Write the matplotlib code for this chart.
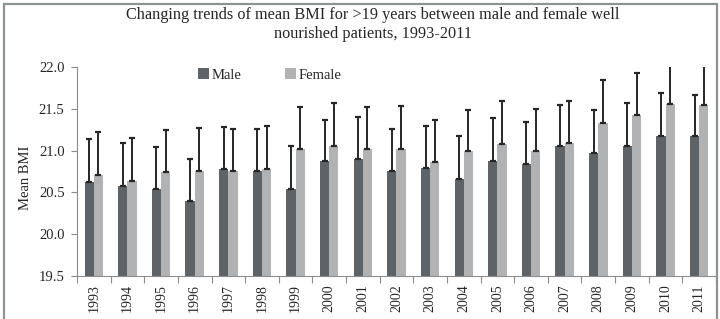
import matplotlib

matplotlib.use("Agg")

import numpy as np
import matplotlib.pyplot as plt
from matplotlib.patches import Patch, Rectangle

years = [str(y) for y in range(1993, 2012)]
male_mean = [20.63, 20.58, 20.54, 20.40, 20.78, 20.75, 20.54, 20.87, 20.90, 20.76,
             20.79, 20.66, 20.88, 20.84, 21.05, 20.97, 21.06, 21.18, 21.17]
male_sd = [0.51, 0.51, 0.50, 0.50, 0.50, 0.51, 0.51, 0.50, 0.50, 0.50,
           0.50, 0.51, 0.51, 0.50, 0.50, 0.51, 0.51, 0.51, 0.50]
female_mean = [20.71, 20.64, 20.74, 20.76, 20.76, 20.78, 21.02, 21.06, 21.02, 21.02,
               20.86, 20.99, 21.08, 21.00, 21.09, 21.33, 21.43, 21.56, 21.54]
female_sd = [0.51, 0.51, 0.51, 0.51, 0.50, 0.51, 0.50, 0.51, 0.50, 0.51,
             0.51, 0.50, 0.51, 0.50, 0.50, 0.51, 0.50, 0.50, 0.50]

male_col = "#5e6367"
female_col = "#b1b2b3"
err_col = "#262626"
spine_col = "#8c8c8c"
txt_col = "#262626"

plt.rcParams["font.family"] = ["Liberation Serif", "DejaVu Serif"]

fig = plt.figure(figsize=(7.2, 3.19), dpi=100)
ax = fig.add_axes([77 / 720, 1 - 276 / 319, (716 - 77) / 720, (276 - 67) / 319])

x = np.arange(len(years))
w = 0.275
ax.bar(x - w / 2, male_mean, w, bottom=0, color=male_col, label="Male", zorder=2)
ax.bar(x + w / 2, female_mean, w, bottom=0, color=female_col, label="Female", zorder=2)

zeros = np.zeros(len(years))
ax.errorbar(x - w / 2, male_mean, yerr=[zeros, male_sd], fmt="none", ecolor=err_col,
            elinewidth=1.4, capsize=2.4, capthick=1.6, zorder=3)
ax.errorbar(x + w / 2, female_mean, yerr=[zeros, female_sd], fmt="none", ecolor=err_col,
            elinewidth=1.4, capsize=2.4, capthick=1.6, zorder=3)

ax.set_xlim(-0.5, len(years) - 0.5)
ax.set_ylim(19.5, 22.0)
ax.set_yticks(np.arange(19.5, 22.01, 0.5))
ax.set_yticklabels([f"{v:.1f}" for v in np.arange(19.5, 22.01, 0.5)], fontsize=10.5, color=txt_col)
ax.set_xticks(x)
ax.set_xticklabels(years, rotation=90, fontsize=10, color=txt_col)
ax.set_xticks(np.arange(-0.5, len(years), 1.0), minor=True)
ax.tick_params(axis="x", which="major", length=0, pad=6)
ax.tick_params(axis="x", which="minor", length=5, color=spine_col, width=0.8)
ax.tick_params(axis="y", length=4, color=spine_col, width=0.8, pad=5)

for side in ("top", "right"):
    ax.spines[side].set_visible(False)
for side in ("left", "bottom"):
    ax.spines[side].set_color(spine_col)
    ax.spines[side].set_linewidth(0.8)

ax.set_ylabel("Mean BMI", fontsize=10.5, color=txt_col)
ax.yaxis.set_label_coords(-0.07, 0.47)

handles = [Patch(facecolor=male_col, label="Male"), Patch(facecolor=female_col, label="Female")]
fig.legend(handles=handles, loc="center left", bbox_to_anchor=(191 / 720, 1 - 75 / 319),
           ncol=2, frameon=False, fontsize=10.5, handlelength=0.75, handleheight=0.75,
           handletextpad=0.15, columnspacing=3.0, borderpad=0, labelcolor=txt_col)

fig.text(373 / 720, 1 - 15 / 319,
         "Changing trends of mean BMI for >19 years between male and female well",
         ha="center", va="center", fontsize=11.7, color=txt_col)
fig.text(373 / 720, 1 - 34 / 319, "nourished patients, 1993-2011",
         ha="center", va="center", fontsize=11.7, color=txt_col)

# grey frame round the picture (bottom edge falls off the image)
fig.patches.append(Rectangle((3.5 / 720, -0.05), (716.5 - 3.5) / 720, 1.05 - 4 / 319,
                             transform=fig.transFigure, fill=False,
                             edgecolor="#8d9292", linewidth=1.6, zorder=0))

fig.savefig("out.png", dpi=100, facecolor="white")
